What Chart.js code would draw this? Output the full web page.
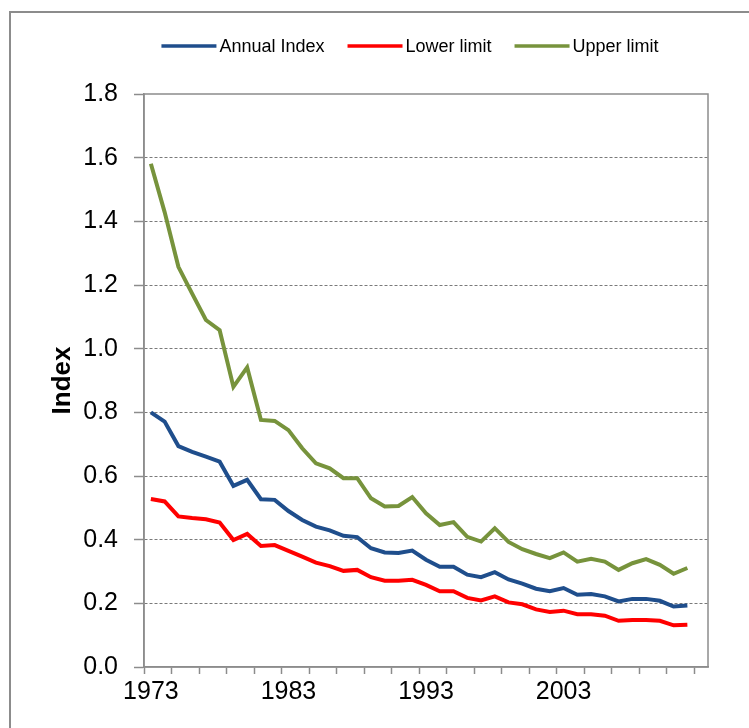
<!DOCTYPE html>
<html>
<head>
<meta charset="utf-8">
<script src="https://cdn.jsdelivr.net/npm/chart.js@4/dist/chart.umd.min.js"></script>
<style>
  body { margin: 0; background: #fff; }
</style>
</head>
<body>
<canvas id="myChart" width="749" height="728"></canvas>
<script>
const years = [1973, 1974, 1975, 1976, 1977, 1978, 1979, 1980, 1981, 1982,
  1983, 1984, 1985, 1986, 1987, 1988, 1989, 1990, 1991, 1992,
  1993, 1994, 1995, 1996, 1997, 1998, 1999, 2000, 2001, 2002,
  2003, 2004, 2005, 2006, 2007, 2008, 2009, 2010, 2011, 2012, 2013];

const annualIndex = [0.800, 0.771, 0.694, 0.676, 0.661, 0.645, 0.569, 0.588, 0.527, 0.525,
  0.490, 0.462, 0.441, 0.429, 0.412, 0.408, 0.373, 0.360, 0.358, 0.366,
  0.337, 0.315, 0.315, 0.290, 0.282, 0.298, 0.275, 0.262, 0.246, 0.238,
  0.248, 0.227, 0.229, 0.222, 0.206, 0.214, 0.214, 0.208, 0.190, 0.193, null];

const lowerLimit = [0.528, 0.520, 0.473, 0.468, 0.464, 0.454, 0.399, 0.418, 0.380, 0.383,
  0.365, 0.347, 0.328, 0.317, 0.302, 0.305, 0.282, 0.271, 0.271, 0.274,
  0.258, 0.238, 0.238, 0.217, 0.209, 0.222, 0.203, 0.197, 0.181, 0.173,
  0.177, 0.166, 0.166, 0.161, 0.145, 0.148, 0.148, 0.145, 0.131, 0.133, null];

const upperLimit = [1.581, 1.429, 1.257, 1.173, 1.090, 1.058, 0.880, 0.941, 0.776, 0.773,
  0.744, 0.687, 0.640, 0.624, 0.593, 0.593, 0.530, 0.504, 0.506, 0.534,
  0.483, 0.446, 0.455, 0.409, 0.394, 0.436, 0.393, 0.370, 0.355, 0.342,
  0.360, 0.331, 0.340, 0.331, 0.305, 0.326, 0.339, 0.321, 0.293, 0.311, null];

const xTickLabels = [1973, 1983, 1993, 2003];
const yTicks = [0, 0.2, 0.4, 0.6, 0.8, 1.0, 1.2, 1.4, 1.6, 1.8];

const fontFamily = '"Liberation Sans", Arial, sans-serif';
const axisGrey = '#8c8c8c';

// outer frame, plot border and the line legend on top
const frame = {
  id: 'frame',
  beforeDraw(chart) {
    const ctx = chart.ctx;
    ctx.save();
    ctx.strokeStyle = axisGrey;
    ctx.lineWidth = 2;
    ctx.strokeRect(10, 12, 760, 740);
    ctx.restore();
  },
  beforeDatasetsDraw(chart) {
    const { ctx, chartArea: a } = chart;
    ctx.save();
    ctx.strokeStyle = axisGrey;
    ctx.lineWidth = 1.5;
    ctx.setLineDash([]);
    ctx.strokeRect(a.left, a.top, a.right - a.left, a.bottom - a.top);
    ctx.restore();
  },
  afterDraw(chart) {
    const ctx = chart.ctx;
    ctx.save();
    ctx.font = '18px ' + fontFamily;
    ctx.textBaseline = 'middle';
    const items = chart.data.datasets.map(ds => ({
      label: ds.label,
      color: ds.borderColor,
      w: ctx.measureText(ds.label).width
    }));
    const lineW = 55, gap = 3, space = 23;
    const total = items.reduce((s, it) => s + lineW + gap + it.w, 0) + space * (items.length - 1);
    let x = 410 - total / 2;
    const y = 46;
    items.forEach(it => {
      ctx.strokeStyle = it.color;
      ctx.lineWidth = 3.5;
      ctx.beginPath();
      ctx.moveTo(x, y);
      ctx.lineTo(x + lineW, y);
      ctx.stroke();
      x += lineW + gap;
      ctx.fillStyle = '#000';
      ctx.fillText(it.label, x, y + 1);
      x += it.w + space;
    });
    ctx.restore();
  }
};

new Chart(document.getElementById('myChart'), {
  type: 'line',
  data: {
    labels: years,
    datasets: [
      { label: 'Annual Index', data: annualIndex, borderColor: '#1F4E8C', borderWidth: 4 },
      { label: 'Lower limit', data: lowerLimit, borderColor: '#FF0000', borderWidth: 4 },
      { label: 'Upper limit', data: upperLimit, borderColor: '#77933C', borderWidth: 4 }
    ]
  },
  options: {
    responsive: false,
    animation: false,
    layout: { padding: { top: 94, right: 41, left: 0, bottom: 0 } },
    elements: { point: { radius: 0 }, line: { tension: 0, fill: false } },
    plugins: { legend: { display: false }, tooltip: { enabled: false } },
    scales: {
      x: {
        offset: true,
        grid: {
          offset: true,
          drawOnChartArea: false,
          tickLength: 7,
          tickWidth: 1.5,
          tickColor: c => c.index % 2 === 0 ? axisGrey : 'rgba(0,0,0,0)'
        },
        border: { color: axisGrey, width: 1.5 },
        ticks: {
          autoSkip: false,
          maxRotation: 0,
          padding: 3,
          color: '#000',
          font: { size: 25, family: fontFamily },
          callback(v) {
            const year = this.getLabelForValue(v);
            return xTickLabels.includes(year) ? year : '';
          }
        },
        afterFit(scale) { scale.height = 61; }
      },
      y: {
        min: 0,
        max: 1.8,
        afterBuildTicks(axis) { axis.ticks = yTicks.map(v => ({ value: v })); },
        grid: {
          color: c => (c.tick && c.tick.value > 0 && c.tick.value < 1.8) ? '#7a7a7a' : 'rgba(0,0,0,0)',
          tickColor: axisGrey,
          tickLength: 10,
          tickWidth: 1.5
        },
        border: { color: axisGrey, width: 1.5, dash: [3, 2] },
        ticks: {
          padding: 16,
          color: '#000',
          font: { size: 25, family: fontFamily },
          callback: v => v.toFixed(1)
        },
        title: {
          display: true,
          text: 'Index',
          color: '#000',
          font: { size: 26, weight: 'bold', family: fontFamily },
          padding: { top: 47, bottom: 0 }
        },
        afterFit(scale) { scale.width = 144; }
      }
    }
  },
  plugins: [frame]
});
</script>
</body>
</html>
